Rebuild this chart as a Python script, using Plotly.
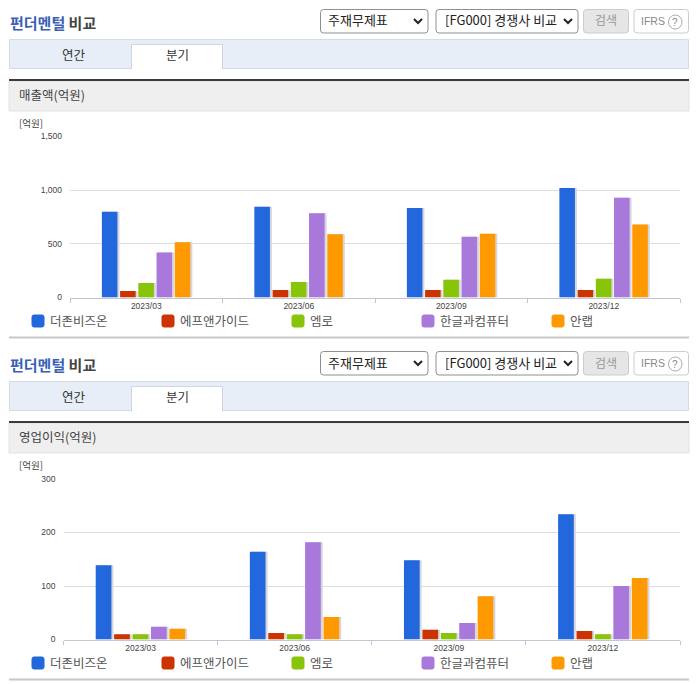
import plotly.graph_objects as go

WIDTH = 696
HEIGHT = 684
KR_FONT = "Noto Sans CJK KR"
TICK_FONT = "Liberation Sans"

quarters = ["2023/03", "2023/06", "2023/09", "2023/12"]
companies = ["더존비즈온", "에프앤가이드", "엠로", "한글과컴퓨터", "안랩"]
colors = ["#2268dc", "#cc3300", "#88c408", "#a878da", "#ff9900"]

sales_duzon = [800, 845, 835, 1021]
sales_fnguide = [60, 70, 70, 70]
sales_emro = [135, 145, 165, 175]
sales_hancom = [420, 785, 565, 930]
sales_ahnlab = [515, 590, 595, 680]
sales_ticks = [0, 500, 1000, 1500]

profit_duzon = [139, 164, 148, 234]
profit_fnguide = [10, 12, 18, 16]
profit_emro = [10, 10, 12, 10]
profit_hancom = [24, 182, 31, 100]
profit_ahnlab = [20, 42, 81, 115]
profit_ticks = [0, 100, 200, 300]

fig = go.Figure()
shapes = []
notes = []


def px(x):
    return x / WIDTH


def py(y):
    return 1 - y / HEIGHT


def box(x0, y0, x1, y1, fill="rgba(0,0,0,0)", line="rgba(0,0,0,0)", width=1):
    shapes.append(dict(type="rect", xref="paper", yref="paper", layer="below",
                       x0=px(x0), y0=py(y0), x1=px(x1), y1=py(y1),
                       fillcolor=fill, line=dict(color=line, width=width)))


def round_box(x0, y0, x1, y1, r=3, fill="#ffffff", line="#8f8f8f", width=1):
    path = (f"M{px(x0 + r)},{py(y0)} L{px(x1 - r)},{py(y0)} "
            f"Q{px(x1)},{py(y0)} {px(x1)},{py(y0 + r)} L{px(x1)},{py(y1 - r)} "
            f"Q{px(x1)},{py(y1)} {px(x1 - r)},{py(y1)} L{px(x0 + r)},{py(y1)} "
            f"Q{px(x0)},{py(y1)} {px(x0)},{py(y1 - r)} L{px(x0)},{py(y0 + r)} "
            f"Q{px(x0)},{py(y0)} {px(x0 + r)},{py(y0)} Z")
    shapes.append(dict(type="path", xref="paper", yref="paper", layer="below", path=path,
                       fillcolor=fill, line=dict(color=line, width=width)))


def chevron(x, y):
    path = f"M{px(x - 4)},{py(y - 2)} L{px(x)},{py(y + 2)} L{px(x + 4)},{py(y - 2)}"
    shapes.append(dict(type="path", xref="paper", yref="paper", layer="below", path=path,
                       line=dict(color="#222222", width=2)))


def label(x, y, text, size=12, color="#444444", anchor="left", family=KR_FONT):
    # Noto CJK sits about a pixel low in its line box
    if family == KR_FONT:
        y -= 1
    notes.append(dict(xref="paper", yref="paper", x=px(x), y=py(y), text=text, showarrow=False,
                      xanchor=anchor, yanchor="middle", borderpad=0, borderwidth=0,
                      font=dict(family=family, size=size, color=color)))


def panel_chrome(top, heading):
    # top is the pixel offset of this panel, everything below is relative to it
    label(10, top + 24, "<b><span style='color:#3a5fb5'>펀더멘털</span> 비교</b>", size=15, color="#444444")

    round_box(320.5, top + 9.5, 428, top + 33)
    label(328, top + 21, "주재무제표", size=13, color="#222222")
    chevron(418, top + 21)
    round_box(436, top + 9.5, 578, top + 33)
    label(445, top + 21, "[FG000] 경쟁사 비교", size=13, color="#222222")
    chevron(568, top + 21)

    round_box(583.5, top + 9.5, 628.5, top + 33, fill="#e6e6e6", line="#cccccc")
    label(606, top + 21, "검색", size=12, color="#999999", anchor="center")
    round_box(634, top + 9.5, 688.5, top + 33, fill="#ffffff", line="#cccccc")
    label(641, top + 21, "IFRS", size=10.5, color="#888888", family=TICK_FONT)
    shapes.append(dict(type="circle", xref="paper", yref="paper", layer="below",
                       x0=px(668.5), y0=py(top + 15), x1=px(682), y1=py(top + 29),
                       fillcolor="#ffffff", line=dict(color="#aaaaaa", width=1)))
    label(675.2, top + 22, "?", size=10, color="#888888", anchor="center", family=TICK_FONT)

    box(9.5, top + 39.5, 688.5, top + 68.5, fill="#e8eef7", line="#d5dce8")
    box(131.5, top + 44.5, 222.5, top + 69, fill="#ffffff", line="#cfd6e2")
    box(132, top + 67.5, 222, top + 70, fill="#ffffff")
    label(73.5, top + 56, "연간", size=12.5, color="#333333", anchor="center")
    label(177, top + 56, "분기", size=12.5, color="#333333", anchor="center")

    box(9, top + 81, 689, top + 111, fill="#efefef", line="#e2e2e2")
    box(9, top + 79, 689, top + 81, fill="#3c3c3c")
    label(19, top + 96, heading, size=12.5, color="#444444")
    label(19, top + 124, "[억원]", size=9.5, color="#444444")

    box(9, top + 336.5, 689, top + 338.5, fill="#c8c8c8")

    for i, name in enumerate(companies):
        x = 32 + 130 * i
        round_box(x, top + 315, x + 12, top + 327, r=2, fill=colors[i], line=colors[i])
        label(x + 18, top + 321, name, size=12.5, color="#555555")


def add_bars(series, xaxis, yaxis):
    # shadows first so the coloured bars sit on top of them
    for i, values in enumerate(series):
        fig.add_trace(go.Bar(x=quarters, y=values, xaxis=xaxis, yaxis=yaxis, width=0.102,
                             offset=-0.291 + 0.1195 * i + 0.013, showlegend=False, hoverinfo="skip",
                             marker=dict(color="#d6d6de", line=dict(width=0))))
    for i, values in enumerate(series):
        fig.add_trace(go.Bar(x=quarters, y=values, xaxis=xaxis, yaxis=yaxis, width=0.102,
                             offset=-0.291 + 0.1195 * i, name=companies[i], showlegend=False,
                             marker=dict(color=colors[i], line=dict(width=0))))


def axis_style(x_left, y_zero, y_max, ticks):
    x_axis = dict(type="category", categoryorder="array", categoryarray=quarters, automargin=False,
                  domain=[px(x_left), px(680)], tickson="boundaries", ticks="outside",
                  ticklen=4, tickcolor="#c0c6d2", showline=True, linecolor="#c0c6d2",
                  showgrid=False, ticklabelstandoff=0, fixedrange=True,
                  tickfont=dict(family=TICK_FONT, size=8.5, color="#444444"))
    y_axis = dict(domain=[py(y_zero), py(y_max)], range=[ticks[0], ticks[-1]], tickvals=ticks,
                  automargin=False, tickformat=",", showgrid=True, gridcolor="#dcdde2", gridwidth=1,
                  zeroline=False, showline=False, ticks="", ticklabelstandoff=7, fixedrange=True,
                  tickfont=dict(family=TICK_FONT, size=8.5, color="#444444"))
    return x_axis, y_axis


panel_chrome(0, "매출액(억원)")
panel_chrome(342, "영업이익(억원)")

add_bars([sales_duzon, sales_fnguide, sales_emro, sales_hancom, sales_ahnlab], "x", "y")
add_bars([profit_duzon, profit_fnguide, profit_emro, profit_hancom, profit_ahnlab], "x2", "y2")

x1, y1 = axis_style(70, 297.5, 136.5, sales_ticks)
x2, y2 = axis_style(63.5, 639.5, 479, profit_ticks)
y1["anchor"] = "x"
x1["anchor"] = "y"
y2["anchor"] = "x2"
x2["anchor"] = "y2"

fig.update_layout(
    width=WIDTH,
    height=HEIGHT,
    margin=dict(l=0, r=0, t=0, b=0, pad=0),
    paper_bgcolor="#ffffff",
    plot_bgcolor="rgba(0,0,0,0)",
    barmode="overlay",
    showlegend=False,
    xaxis=x1,
    yaxis=y1,
    xaxis2=x2,
    yaxis2=y2,
    shapes=shapes,
    annotations=notes,
)

fig.write_html("out.html", config=dict(displayModeBar=False),
               post_script="document.body.style.margin='0';document.body.style.overflow='hidden';")
